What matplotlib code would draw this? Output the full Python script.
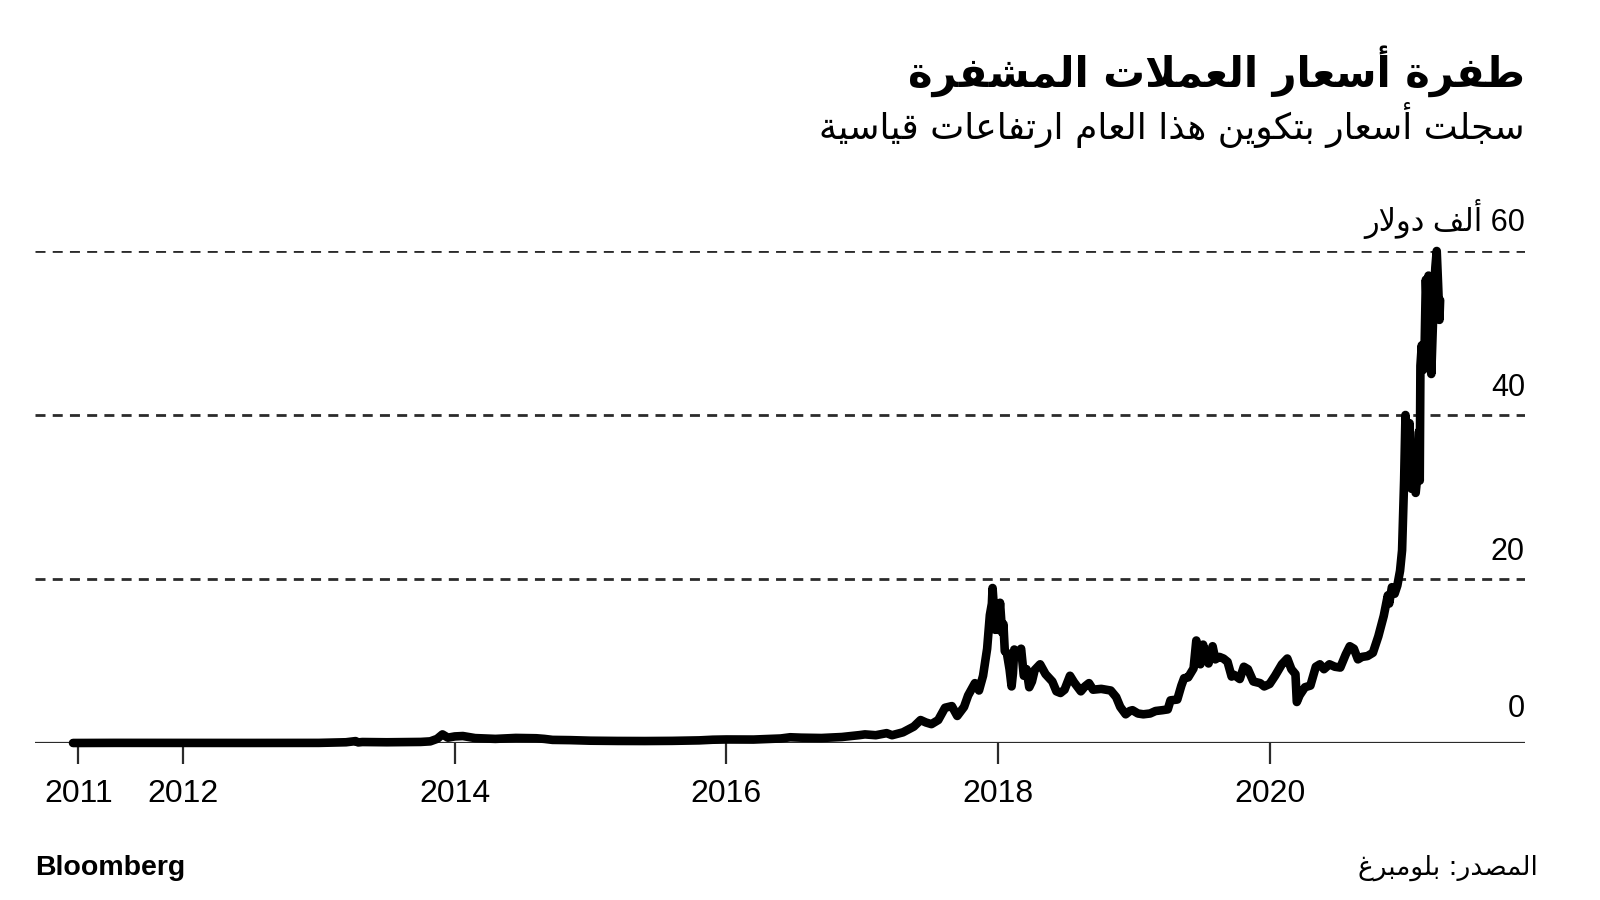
import re
import matplotlib
matplotlib.use("Agg")
import matplotlib.pyplot as plt

# ---------- data: Bitcoin price, thousand USD ----------
years = [
    2011.19, 2011.5, 2012.0, 2012.5, 2013.0, 2013.20, 2013.27, 2013.29, 2013.32, 2013.5,
    2013.75, 2013.82, 2013.87, 2013.91, 2013.95, 2014.00, 2014.06, 2014.15, 2014.3, 2014.45,
    2014.6, 2014.66, 2014.72, 2014.85, 2015.0, 2015.2, 2015.4, 2015.6, 2015.8, 2015.9,
    2016.0, 2016.2, 2016.4, 2016.47, 2016.55, 2016.7, 2016.85, 2016.98, 2017.02, 2017.1,
    2017.18, 2017.22, 2017.3, 2017.38, 2017.43, 2017.47, 2017.51, 2017.56, 2017.61, 2017.66,
    2017.70, 2017.75, 2017.78, 2017.83, 2017.86, 2017.89, 2017.92, 2017.94, 2017.955, 2017.96,
    2017.97, 2017.98, 2017.99, 2018.00, 2018.015, 2018.03, 2018.04, 2018.05, 2018.065, 2018.085,
    2018.10, 2018.11, 2018.12, 2018.15, 2018.17, 2018.19, 2018.21, 2018.23, 2018.25, 2018.27,
    2018.31, 2018.35, 2018.40, 2018.43, 2018.46, 2018.49, 2018.53, 2018.56, 2018.61, 2018.64,
    2018.67, 2018.70, 2018.76, 2018.83, 2018.87, 2018.90, 2018.94, 2018.97, 2018.99, 2019.03,
    2019.07, 2019.12, 2019.16, 2019.21, 2019.25, 2019.27, 2019.32, 2019.35, 2019.37, 2019.40,
    2019.44, 2019.46, 2019.48, 2019.49, 2019.51, 2019.53, 2019.55, 2019.58, 2019.60, 2019.63,
    2019.66, 2019.69, 2019.72, 2019.74, 2019.78, 2019.81, 2019.84, 2019.88, 2019.93, 2019.96,
    2020.00, 2020.04, 2020.09, 2020.13, 2020.16, 2020.19, 2020.20, 2020.22, 2020.26, 2020.30,
    2020.34, 2020.37, 2020.40, 2020.44, 2020.48, 2020.52, 2020.56, 2020.59, 2020.62, 2020.65,
    2020.68, 2020.72, 2020.76, 2020.80, 2020.84, 2020.87, 2020.88, 2020.90, 2020.92, 2020.94,
    2020.96, 2020.975, 2020.985, 2020.99, 2021.00, 2021.01, 2021.02, 2021.03, 2021.045, 2021.06,
    2021.075, 2021.09, 2021.10, 2021.105, 2021.11, 2021.12, 2021.13, 2021.14, 2021.15, 2021.16,
    2021.17, 2021.18, 2021.19, 2021.20, 2021.21, 2021.22, 2021.23, 2021.24, 2021.25, 2021.255,
]
price_k = [
    0.001, 0.015, 0.005, 0.007, 0.013, 0.09, 0.23, 0.07, 0.12, 0.09,
    0.13, 0.2, 0.5, 1.05, 0.65, 0.8, 0.85, 0.6, 0.5, 0.62,
    0.58, 0.5, 0.38, 0.35, 0.28, 0.25, 0.24, 0.26, 0.32, 0.4,
    0.43, 0.42, 0.55, 0.7, 0.65, 0.61, 0.73, 0.96, 1.05, 0.95,
    1.2, 0.95, 1.3, 2.0, 2.8, 2.5, 2.3, 2.8, 4.3, 4.5,
    3.3, 4.4, 5.8, 7.3, 6.4, 8.2, 11.5, 15.6, 17.0, 18.9,
    16.5, 13.8, 16.0, 13.8, 17.1, 13.5, 14.5, 11.2, 11.0, 9.0,
    6.9, 8.5, 11.4, 10.6, 11.5, 8.2, 9.0, 6.8, 7.5, 8.9,
    9.6, 8.4, 7.5, 6.3, 6.1, 6.5, 8.2, 7.4, 6.3, 6.9,
    7.3, 6.5, 6.6, 6.4, 5.6, 4.4, 3.5, 3.9, 4.0, 3.6,
    3.5, 3.6, 3.9, 4.0, 4.1, 5.2, 5.3, 7.0, 7.9, 8.0,
    9.1, 12.5, 11.0, 9.6, 12.0, 10.6, 9.7, 11.8, 10.2, 10.5,
    10.3, 9.9, 8.1, 8.3, 7.8, 9.3, 9.0, 7.5, 7.3, 6.9,
    7.2, 8.2, 9.6, 10.3, 9.0, 8.4, 5.0, 5.8, 6.8, 7.0,
    9.3, 9.6, 9.0, 9.6, 9.3, 9.2, 10.8, 11.8, 11.5, 10.2,
    10.5, 10.6, 11.0, 13.0, 15.5, 18.0, 17.0, 19.0, 18.2, 19.2,
    21.0, 23.5, 29.0, 32.0, 40.0, 37.0, 33.0, 39.0, 31.0, 35.0,
    30.5, 33.0, 38.0, 32.0, 46.0, 48.5, 45.5, 47.5, 56.5, 52.0,
    57.0, 49.5, 45.0, 50.0, 55.0, 58.0, 60.0, 56.0, 51.6, 54.0,
]

x_ticks = [2011.23, 2012, 2014, 2016, 2018, 2020]
x_labels = ["2011", "2012", "2014", "2016", "2018", "2020"]
y_grid = [20, 40, 60]
y_labels = ["0", "20", "40", "60 ألف دولار"]

title = "طفرة أسعار العملات المشفرة"
subtitle = "سجلت أسعار بتكوين هذا العام ارتفاعات قياسية"
source = "المصدر: بلومبرغ"


# ---------- minimal Arabic shaping (matplotlib has no bidi / joining) ----------
_BASE = [("ء", 0xFE80, 1), ("آ", 0xFE81, 2), ("أ", 0xFE83, 2), ("ؤ", 0xFE85, 2),
         ("إ", 0xFE87, 2), ("ئ", 0xFE89, 4), ("ا", 0xFE8D, 2), ("ب", 0xFE8F, 4),
         ("ة", 0xFE93, 2), ("ت", 0xFE95, 4), ("ث", 0xFE99, 4), ("ج", 0xFE9D, 4),
         ("ح", 0xFEA1, 4), ("خ", 0xFEA5, 4), ("د", 0xFEA9, 2), ("ذ", 0xFEAB, 2),
         ("ر", 0xFEAD, 2), ("ز", 0xFEAF, 2), ("س", 0xFEB1, 4), ("ش", 0xFEB5, 4),
         ("ص", 0xFEB9, 4), ("ض", 0xFEBD, 4), ("ط", 0xFEC1, 4), ("ظ", 0xFEC5, 4),
         ("ع", 0xFEC9, 4), ("غ", 0xFECD, 4), ("ف", 0xFED1, 4), ("ق", 0xFED5, 4),
         ("ك", 0xFED9, 4), ("ل", 0xFEDD, 4), ("م", 0xFEE1, 4), ("ن", 0xFEE5, 4),
         ("ه", 0xFEE9, 4), ("و", 0xFEED, 2), ("ى", 0xFEEF, 2), ("ي", 0xFEF1, 4)]
FORMS = {c: (start, n) for c, start, n in _BASE}
LAMALEF = {"آ": 0xFEF5, "أ": 0xFEF7, "إ": 0xFEF9, "ا": 0xFEFB}


def ar(s):
    toks, i = [], 0
    while i < len(s):
        if s[i] == "ل" and i + 1 < len(s) and s[i + 1] in LAMALEF:
            toks.append(("LA", s[i + 1])); i += 2
        else:
            toks.append((s[i], None)); i += 1

    def dual(t):
        return t[0] in FORMS and FORMS[t[0]][1] == 4

    def joining(t):
        return t[0] == "LA" or (t[0] in FORMS and FORMS[t[0]][1] > 1)

    out = []
    for k, t in enumerate(toks):
        p = k > 0 and dual(toks[k - 1]) and joining(t)
        n = k + 1 < len(toks) and dual(t) and joining(toks[k + 1])
        if t[0] == "LA":
            out.append(chr(LAMALEF[t[1]] + (1 if p else 0)))
        elif t[0] in FORMS:
            start, cnt = FORMS[t[0]]
            if cnt == 4:
                idx = 3 if (p and n) else 1 if p else 2 if n else 0
            elif cnt == 2:
                idx = 1 if p else 0
            else:
                idx = 0
            out.append(chr(start + idx))
        else:
            out.append(t[0])
    vis = "".join(out)[::-1]
    return re.sub(r"[0-9A-Za-z.,]+", lambda m: m.group()[::-1], vis)


# ---------- figure ----------
W, H = 1600, 900
fig = plt.figure(figsize=(16, 9), dpi=100)
ax = fig.add_axes([35 / W, 1 - 743 / H, (1525 - 35) / W, (743 - 251) / H])
ax.set_xlim(2010.91, 2021.88)
ax.set_ylim(0, 60)
for s in ax.spines.values():
    s.set_visible(False)

for g in y_grid:
    ax.axhline(g, color="#2b2b2b", lw=2.0, ls=(0, (3.6, 2.6)), zorder=1)
ax.axhline(0, color="#2b2b2b", lw=1.6, zorder=1)

ax.plot(years, price_k, color="black", lw=6.2, solid_joinstyle="round",
        solid_capstyle="round", clip_on=False, zorder=3)

ax.set_yticks([])
ax.set_xticks(x_ticks)
ax.set_xticklabels(x_labels, fontsize=23, family=["Liberation Sans", "DejaVu Sans"])
ax.tick_params(axis="x", length=15, width=1.6, color="#2b2b2b", pad=11)

lab_fam = ["Liberation Sans", "DejaVu Sans"]
for v, lab in zip([0] + y_grid, y_labels):
    off = 19 if v == 0 else 12
    ax.annotate(ar(lab), xy=(1, v), xycoords=("axes fraction", "data"),
                xytext=(0, off * 0.72), textcoords="offset points",
                ha="right", va="bottom", fontsize=22, family=lab_fam)

fig.text(1525 / W, 1 - 71 / H, ar(title), ha="right", va="center",
         fontsize=30, fontweight="bold", family=["DejaVu Sans"])
fig.text(1525 / W, 1 - 125 / H, ar(subtitle), ha="right", va="center",
         fontsize=26, family=["DejaVu Sans"])
fig.text(35 / W, 1 - 868 / H, "Bloomberg", ha="left", va="center",
         fontsize=20.5, fontweight="bold", family=["Liberation Sans"])
fig.text(1538 / W, 1 - 868 / H, ar(source), ha="right", va="center",
         fontsize=19, family=["DejaVu Sans"])

fig.savefig("out.png", dpi=100, facecolor="white")
